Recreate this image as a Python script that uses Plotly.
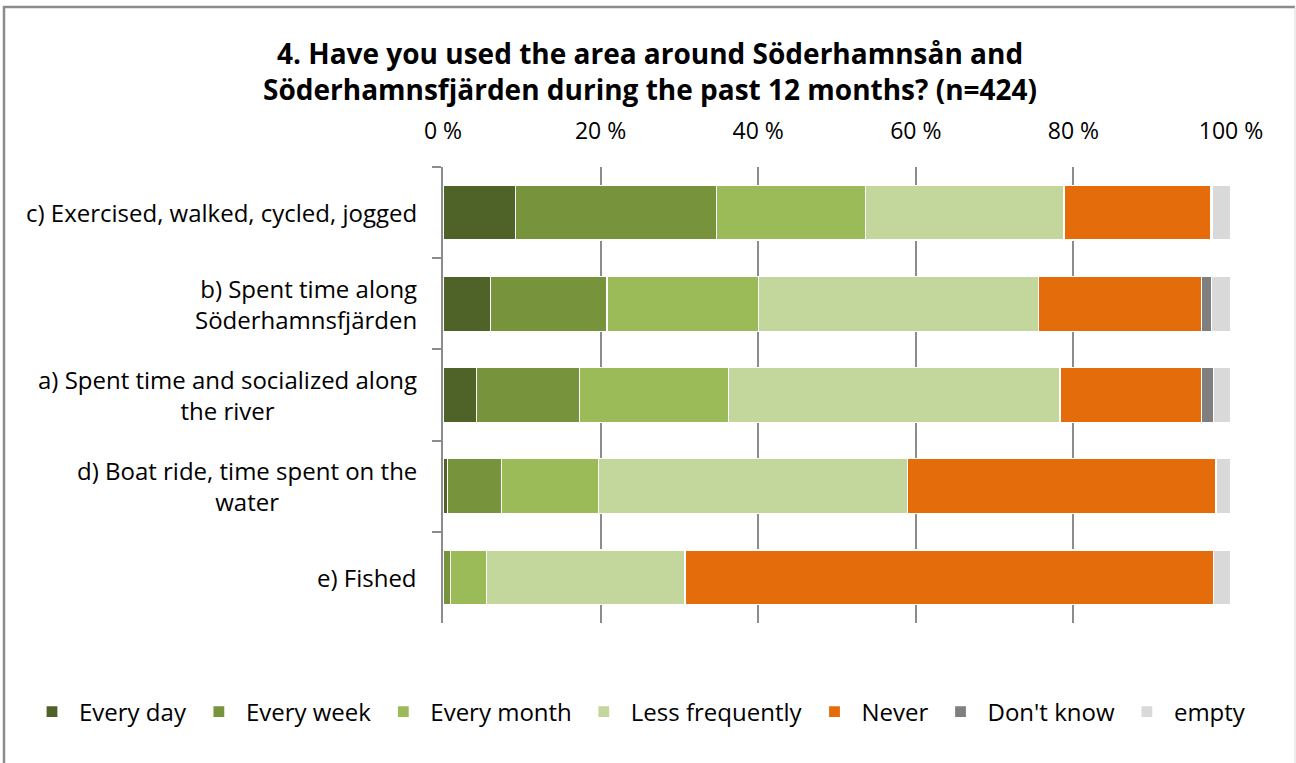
import plotly.graph_objects as go

categories = [
    "c) Exercised, walked, cycled, jogged",
    "b) Spent time along<br>Söderhamnsfjärden",
    "a) Spent time and socialized along<br>the river",
    "d) Boat ride, time spent on the<br>water",
    "e) Fished",
]
label_align = ["right", "right", "center", "center", "right"]

series_names = ["Every day", "Every week", "Every month", "Less frequently", "Never", "Don't know", "empty"]
every_day = [9.2, 6.0, 4.3, 0.6, 0.0]
every_week = [25.5, 14.8, 13.0, 6.8, 1.0]
every_month = [18.9, 19.2, 18.9, 12.3, 4.5]
less_frequently = [25.2, 35.6, 42.1, 39.2, 25.2]
never = [18.6, 20.7, 18.0, 39.2, 67.1]
dont_know = [0.2, 1.2, 1.5, 0.0, 0.0]
empty = [2.4, 2.5, 2.2, 1.9, 2.2]
series_values = [every_day, every_week, every_month, less_frequently, never, dont_know, empty]
colors = ["#4F6228", "#77933C", "#9BBB59", "#C3D69B", "#E46C0A", "#7F7F7F", "#D9D9D9"]

tick_vals = [0, 20, 40, 60, 80, 100]
tick_text = ["0 %", "20 %", "40 %", "60 %", "80 %", "100 %"]

title_text = "4. Have you used the area around Söderhamnsån and<br>Söderhamnsfjärden during the past 12 months? (n=424)"

FONT = "Open Sans"
W, H = 1296, 763
# plot area in pixels
PX0, PX1, PY0, PY1 = 443, 1231, 167, 623

def px_x(px):
    return px / W

def px_y(py):
    return 1 - py / H

fig = go.Figure()
for name, vals, col in zip(series_names, series_values, colors):
    fig.add_trace(go.Bar(
        y=categories, x=vals, name=name, orientation="h",
        marker=dict(color=col, line=dict(color="white", width=1.2)),
        hoverinfo="x+name",
    ))

annotations = [dict(
    x=px_x(650), xref="paper", y=px_y(71), yref="paper", xanchor="center", yanchor="middle",
    text="<b>" + title_text + "</b>", showarrow=False, align="center",
    font=dict(family=FONT, size=28, color="#000000"),
)]
for cat, al in zip(categories, label_align):
    annotations.append(dict(
        x=px_x(419), xref="paper", y=cat, yref="y",
        text=cat, showarrow=False, xanchor="right", yanchor="middle",
        align=al, font=dict(family=FONT, size=24, color="#000000"),
    ))

shapes = [
    dict(type="line", xref="paper", yref="paper", x0=px_x(4), x1=px_x(4), y0=px_y(6), y1=px_y(800),
         line=dict(color="#8c8c8c", width=2.5)),
    dict(type="line", xref="paper", yref="paper", x0=px_x(3), x1=px_x(1295), y0=px_y(7), y1=px_y(7),
         line=dict(color="#8c8c8c", width=2.5)),
    dict(type="line", xref="paper", yref="paper", x0=px_x(1295), x1=px_x(1295), y0=px_y(7), y1=px_y(800),
         line=dict(color="#d9d9d9", width=1)),
]

fig.update_layout(
    width=W, height=H,
    margin=dict(l=0, r=0, t=0, b=0, autoexpand=False),
    paper_bgcolor="white", plot_bgcolor="white",
    barmode="stack", bargap=0.4,
    font=dict(family=FONT, size=22, color="#000000"),
    xaxis=dict(domain=[px_x(PX0), px_x(PX1)], range=[0, 100], side="top",
               tickvals=tick_vals, ticktext=tick_text,
               showgrid=True, gridcolor="#8c8c8c", gridwidth=1.5, showline=False,
               zeroline=False, ticks="", ticklabelstandoff=22,
               tickfont=dict(family=FONT, size=23, color="#000000"), fixedrange=True),
    yaxis=dict(domain=[px_y(PY1), px_y(PY0)],
               categoryorder="array", categoryarray=categories, autorange="reversed",
               showticklabels=False, showline=True, linecolor="#8c8c8c", linewidth=1.5,
               ticks="outside", tickson="boundaries", ticklen=9, tickwidth=1.5, tickcolor="#8c8c8c",
               showgrid=False, zeroline=False),
    legend=dict(orientation="h", x=px_x(638), xanchor="center",
                y=px_y(712), yanchor="middle", itemwidth=44,
                font=dict(family=FONT, size=24, color="#000000"), traceorder="normal",
                itemclick=False, itemdoubleclick=False),
    annotations=annotations,
    shapes=shapes,
    showlegend=True,
)

fig.write_html("out.html")
